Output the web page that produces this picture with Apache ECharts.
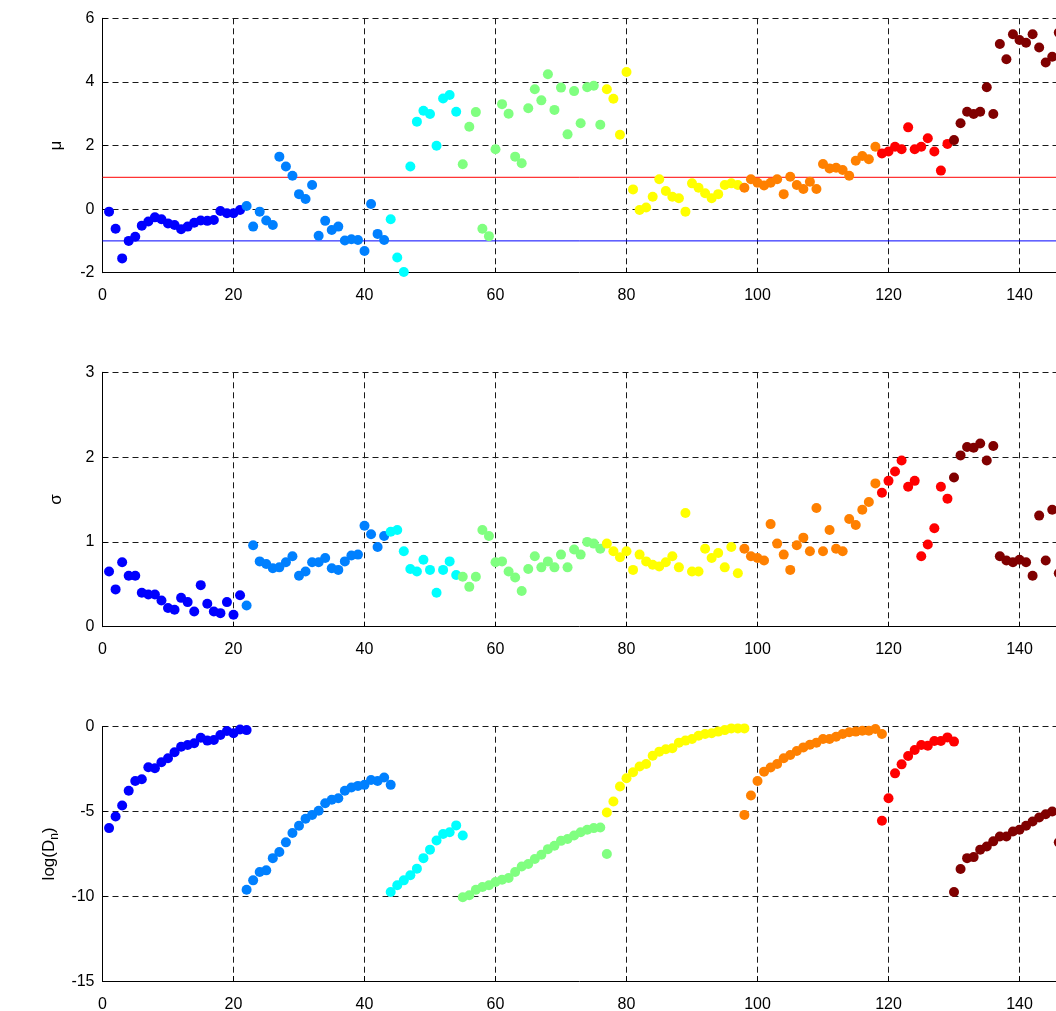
<!DOCTYPE html>
<html><head><meta charset="utf-8">
<script src="https://cdn.jsdelivr.net/npm/echarts@6/dist/echarts.min.js"></script>
<style>html,body{margin:0;padding:0;background:#fff}#c{width:1056px;height:1011px}</style>
</head><body><div id="c"></div><script>
// jet(8) colours, one per segment
const segColors = ['#0000FF','#0080FF','#00FFFF','#80FF80','#FFFF00','#FF8000','#FF0000','#800000'];

// ---- panel 1 : mu ----
const muStarts = [1,22,44,55,77,98,119,130];
const muSeg1 = [-0.08,-0.62,-1.55,-1.00,-0.87,-0.52,-0.39,-0.26,-0.32,-0.45,-0.50,-0.63,-0.55,-0.43,-0.36,-0.37,-0.34,-0.06,-0.13,-0.13,-0.03];
const muSeg2 = [0.10,-0.55,-0.08,-0.36,-0.50,1.65,1.34,1.05,0.47,0.32,0.76,-0.84,-0.37,-0.66,-0.55,-0.99,-0.95,-0.97,-1.32,0.16,-0.78,-0.97];
const muSeg3 = [-0.32,-1.52,-1.98,1.34,2.75,3.09,2.99,1.99,3.48,3.59,3.06];
const muSeg4 = [1.41,2.59,3.05,-0.62,-0.85,1.88,3.30,3.00,1.65,1.44,3.17,3.77,3.42,4.24,3.12,3.82,2.35,3.71,2.70,3.83,3.88,2.65];
const muSeg5 = [3.77,3.47,2.34,4.31,0.62,-0.03,0.05,0.39,0.94,0.57,0.39,0.34,-0.08,0.81,0.67,0.50,0.34,0.47,0.76,0.81,0.76];
const muSeg6 = [0.67,0.94,0.83,0.74,0.83,0.94,0.47,1.02,0.76,0.63,0.86,0.63,1.42,1.28,1.30,1.23,1.05,1.52,1.67,1.57,1.96];
const muSeg7 = [1.75,1.81,1.96,1.88,2.57,1.88,1.96,2.23,1.81,1.21,2.05];
const muSeg8 = [2.17,2.70,3.06,2.99,3.06,3.83,2.99,5.19,4.71,5.50,5.32,5.23,5.50,5.08,4.61,4.79,5.55];
const muRefUpper = 1;
const muRefLower = -1;

// ---- panel 2 : sigma ----
const sigmaStarts = [1,22,44,55,77,98,119,130];
const sigmaSeg1 = [0.65,0.44,0.76,0.60,0.60,0.40,0.38,0.38,0.31,0.22,0.20,0.34,0.29,0.18,0.49,0.27,0.18,0.16,0.29,0.14,0.37];
const sigmaSeg2 = [0.25,0.96,0.77,0.74,0.69,0.70,0.76,0.83,0.60,0.65,0.76,0.76,0.81,0.69,0.67,0.77,0.84,0.85,1.19,1.09,0.94,1.07];
const sigmaSeg3 = [1.12,1.14,0.89,0.68,0.65,0.79,0.67,0.40,0.67,0.77,0.61];
const sigmaSeg4 = [0.59,0.47,0.59,1.14,1.07,0.76,0.77,0.65,0.58,0.42,0.68,0.83,0.70,0.77,0.70,0.85,0.70,0.91,0.85,1.00,0.98,0.92];
const sigmaSeg5 = [0.98,0.89,0.82,0.89,0.67,0.85,0.77,0.73,0.71,0.76,0.83,0.70,1.34,0.65,0.65,0.92,0.81,0.87,0.70,0.94,0.63];
const sigmaSeg6 = [0.92,0.83,0.81,0.78,1.21,0.98,0.85,0.67,0.96,1.05,0.89,1.40,0.89,1.14,0.92,0.89,1.27,1.20,1.38,1.47,1.69];
const sigmaSeg7 = [1.58,1.72,1.83,1.96,1.65,1.72,0.83,0.97,1.16,1.65,1.51];
const sigmaSeg8 = [1.76,2.02,2.12,2.11,2.16,1.96,2.13,0.83,0.78,0.76,0.79,0.76,0.60,1.31,0.78,1.38,0.63];

// ---- panel 3 : log(D_n) ----
const logDStarts = [1,22,44,55,77,98,119,130];
const logDSeg1 = [-5.98,-5.29,-4.65,-3.78,-3.20,-3.10,-2.39,-2.45,-2.10,-1.86,-1.51,-1.18,-1.08,-0.98,-0.65,-0.82,-0.78,-0.49,-0.25,-0.39,-0.16,-0.20];
const logDSeg2 = [-9.61,-9.06,-8.57,-8.47,-7.75,-7.39,-6.82,-6.27,-5.84,-5.43,-5.20,-4.96,-4.51,-4.31,-4.22,-3.78,-3.59,-3.49,-3.43,-3.14,-3.20,-3.00,-3.43];
const logDSeg3 = [-9.75,-9.35,-9.06,-8.76,-8.37,-7.75,-7.25,-6.71,-6.33,-6.22,-5.82,-6.41];
const logDSeg4 = [-10.06,-9.94,-9.61,-9.45,-9.35,-9.16,-9.02,-8.92,-8.57,-8.24,-8.10,-7.80,-7.55,-7.22,-7.02,-6.73,-6.62,-6.42,-6.22,-6.08,-5.98,-5.94,-7.51];
const logDSeg5 = [-5.06,-4.41,-3.53,-3.04,-2.69,-2.35,-2.20,-1.71,-1.47,-1.33,-1.27,-0.94,-0.82,-0.73,-0.53,-0.43,-0.39,-0.29,-0.20,-0.10,-0.10,-0.10];
const logDSeg6 = [-5.20,-4.06,-3.20,-2.65,-2.41,-2.20,-1.86,-1.67,-1.43,-1.22,-1.06,-0.94,-0.73,-0.73,-0.59,-0.43,-0.33,-0.29,-0.24,-0.24,-0.14,-0.43];
const logDSeg7 = [-5.55,-4.22,-2.75,-2.22,-1.73,-1.37,-1.08,-1.12,-0.84,-0.84,-0.63,-0.88];
const logDSeg8 = [-9.75,-8.39,-7.75,-7.69,-7.25,-7.06,-6.76,-6.47,-6.47,-6.18,-6.08,-5.84,-5.59,-5.35,-5.16,-5.00,-6.82];

// axis ranges / tick labels
const xMin = 0, xMax = 160, xStep = 20;
const muTicks = [-2,0,2,4,6];
const sigmaTicks = [0,1,2,3];
const logDTicks = [-15,-10,-5,0];

const panels = [
  {name:'μ', starts: muStarts, segs:[muSeg1,muSeg2,muSeg3,muSeg4,muSeg5,muSeg6,muSeg7,muSeg8], ticks: muTicks},
  {name:'σ', starts: sigmaStarts, segs:[sigmaSeg1,sigmaSeg2,sigmaSeg3,sigmaSeg4,sigmaSeg5,sigmaSeg6,sigmaSeg7,sigmaSeg8], ticks: sigmaTicks},
  {name:'log(D{sub|n})', starts: logDStarts, segs:[logDSeg1,logDSeg2,logDSeg3,logDSeg4,logDSeg5,logDSeg6,logDSeg7,logDSeg8], ticks: logDTicks}
];

const FONT = 'Liberation Sans, Arial, Helvetica, sans-serif';
const plotLeft = 102.5, pxPerUnit = 6.55;
const tops = [18.3, 372.3, 726.7];
const plotH = 254.4;

const grid = [], xAxis = [], yAxis = [], series = [];
const dashed = {show:true, lineStyle:{color:'#1a1a1a', type:[6,4], width:1}};
panels.forEach((p, i) => {
  grid.push({left: plotLeft, top: tops[i], width: (xMax - xMin) * pxPerUnit, height: plotH,
    containLabel:false, outerBoundsMode:'none'});
  xAxis.push({type:'value', gridIndex:i, min:xMin, max:xMax, interval:xStep,
    axisLine:{show:true, onZero:false, lineStyle:{color:'#000', width:1}},
    axisTick:{show:true, inside:true, length:5, lineStyle:{color:'#000'}},
    axisLabel:{color:'#000', fontSize:16, fontFamily:FONT, margin:15},
    splitLine: dashed});
  const tmin = p.ticks[0], tmax = p.ticks[p.ticks.length-1];
  yAxis.push({type:'value', gridIndex:i, min:tmin, max:tmax, interval:p.ticks[1]-p.ticks[0],
    name:p.name, nameLocation:'middle', nameGap:38,
    nameTextStyle:{color:'#000', fontSize:17, fontFamily:FONT,
      rich:{sub:{fontSize:12, fontFamily:FONT, color:'#000', padding:[10,0,0,0]}}},
    axisLine:{show:true, onZero:false, lineStyle:{color:'#000', width:1}},
    axisTick:{show:true, inside:true, length:5, lineStyle:{color:'#000'}},
    axisLabel:{color:'#000', fontSize:16, fontFamily:FONT, margin:8},
    splitLine: dashed});
  if (i === 0) {
    [[muRefUpper, '#FF0000'], [muRefLower, '#0000FF']].forEach(([yv, col]) => {
      series.push({type:'line', xAxisIndex:0, yAxisIndex:0, z:1, silent:true,
        showSymbol:false, symbol:'none', lineStyle:{color:col, width:1},
        data:[[xMin, yv], [xMax, yv]]});
    });
  }
  p.segs.forEach((vals, k) => {
    series.push({type:'scatter', xAxisIndex:i, yAxisIndex:i, z:3,
      symbol:'circle', symbolSize:10,
      itemStyle:{color:segColors[k], opacity:1},
      data: vals.map((v, j) => [p.starts[k] + j, v])});
  });
});

const chart = echarts.init(document.getElementById('c'), null, {renderer:'canvas'});
chart.setOption({animation:false, backgroundColor:'#fff', grid, xAxis, yAxis, series});
</script></body></html>
